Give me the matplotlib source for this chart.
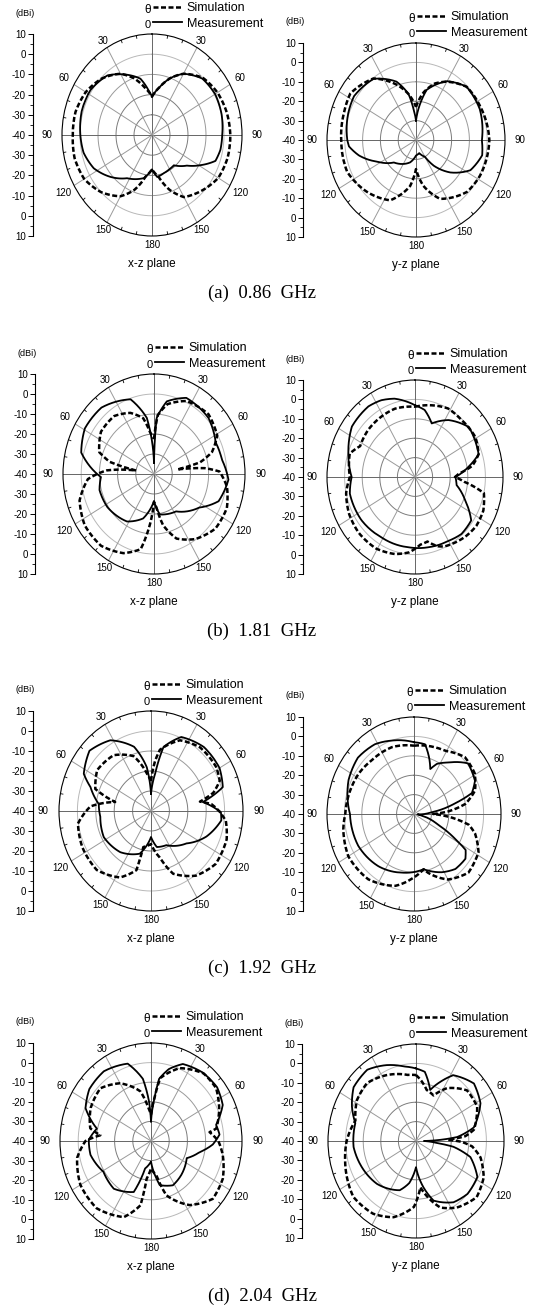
import numpy as np
import matplotlib.pyplot as plt

plt.rcParams['font.family'] = ['Liberation Sans', 'DejaVu Sans']

W, H = 536, 1306

# ---- pattern data: angle (deg, clockwise from top) and gain (dBi) ----
# (a) 0.86 GHz, x-z plane
a_xz_sim_ang = [0, 10, 20, 30, 45, 60, 75, 90, 105, 120, 135, 150, 160, 170, 180,
                190, 200, 210, 225, 240, 255, 270, 285, 300, 315, 330, 340, 350, 360]
a_xz_sim_db = [-21, -16, -10, -5, 0, 2, 3, 3.5, 3.5, 2.5, -1, -4.5, -11, -19, -23,
               -19, -11, -5, 0, 3.5, 4.5, 4, 4, 2.5, -0.5, -5, -10, -16, -21]
a_xz_meas_ang = [0, 10, 20, 30, 45, 60, 75, 90, 101, 110, 119, 128, 141, 150, 161, 172, 180,
                 192, 213, 228, 243, 257, 270, 287, 303, 320, 332, 347, 355, 360]
a_xz_meas_db = [-21, -16, -10, -5, -0.5, 0.5, 0, -1, -1.3, -2.5, -9.2, -15.4, -20.7, -20.5, -20, -19, -23,
                -18.2, -14.5, -9, -3.7, -1, -0.2, 0.8, 0.8, -1.5, -6, -11.4, -17.8, -21]

# (a) 0.86 GHz, y-z plane
a_yz_sim_ang = [0, 10, 20, 30, 46, 64, 90, 117, 133, 156, 170, 180,
                188, 205, 226, 247, 270, 289, 303, 323, 340, 350, 360]
a_yz_sim_db = [-23, -15, -9, -5.3, -0.5, 0, 1.2, 0.4, -0.8, -6.8, -16, -25,
               -16, -5.7, -1.6, 2, 2, 2.8, 4, -0.3, -10, -16, -23]
a_yz_meas_ang = [0, 8, 13, 30, 46, 66, 90, 102, 117, 131, 143, 150, 165, 180,
                 196, 227, 243, 256, 265, 270, 290, 303, 323, 340, 350, 355, 360]
a_yz_meas_db = [-30, -20, -13.5, -5, -0.5, -0.8, -3, -2, -5.7, -14.5, -23.4, -30, -33, -32,
                -28, -23, -15.5, -7, -2.2, -1.4, 0.5, 1.5, -0.5, -8, -16, -24, -30]

# (b) 1.81 GHz, x-z plane
b_xz_sim_ang = [0, 4, 12, 26, 45, 61, 71, 77, 80, 84, 88, 99, 113, 129, 145, 159, 169, 175, 180,
                186, 191, 203, 219, 236, 252, 266, 274, 280, 284, 290, 306, 323, 337, 348, 354, 360]
b_xz_sim_db = [-22.5, -10.5, -4.3, 0.6, 2.3, -0.3, -6.3, -14, -27, -12, -4, 0.6, 3.5, 3.4, -0.3, -5.4, -14, -23, -26,
               -12.6, -1.7, 3, 6.2, 5.9, 3, -3.6, -14, -30, -15, -8, -4, -3.7, -6.8, -11.5, -19, -22.5]
b_xz_meas_ang = [0, 3, 11, 25, 47, 65, 79, 94, 111, 124, 147, 171, 180,
                 195, 212, 237, 255, 267, 285, 301, 319, 341, 352, 360]
b_xz_meas_db = [-34.5, -12, -3, 2, 1, -2.6, -2, 1, -2, -10, -17.7, -19.5, -26.5,
                -17, -12, -9.5, -9, -10.8, 1.4, 4.3, 4, -0.5, -11.7, -34.5]

# (b) 1.81 GHz, y-z plane
b_yz_sim_ang = [0, 28, 42, 59, 72, 80, 86, 90, 95, 102, 114, 126, 137, 155, 160, 168, 175,
                185, 196, 211, 228, 243, 258, 270, 288, 297, 312, 328, 342, 360]
b_yz_sim_db = [-3.8, 0, -0.5, 0, -2, -7, -15, -17.3, -12, 0, 2.5, 3, 2, -0.5, -2, -6, -5,
               -1, 1.3, 3, 3, 2, 0, -3, -1, -5, -4, -3.5, -3, -3.8]
b_yz_meas_ang = [0, 9, 19, 33, 50, 72, 80, 90, 100, 113, 125, 138, 150, 168,
                 186, 212, 234, 257, 270, 288, 306, 324, 334, 344, 360]
b_yz_meas_db = [-3, -5, -10.8, -5, 0, -2, -9, -17, -16, -9, -1, -0.5, -2, -3,
                -3.6, -3.5, -2.3, -2, -4, -0.2, 4.3, 5, 4, 2, -3]

# (c) 1.92 GHz, x-z plane
c_xz_sim_ang = [0, 5, 9, 24, 40, 58, 68, 75, 80, 84, 90, 97, 109, 127, 143, 159, 168, 180,
                193, 195, 207, 225, 244, 261, 274, 283, 290, 305, 324, 341, 353, 360]
c_xz_sim_db = [-25, -15, -9, -1.3, 1.5, 1.7, 0.3, -5, -13, -7, -3, 1, 3.5, 4, 0.5, -6.4, -16, -23.5,
               -21.5, -9.4, -2.7, 1.7, 1.5, 0.2, -7, -20, -7.8, -4.3, -5.5, -11, -21, -25]
c_xz_meas_ang = [0, 7, 12, 24, 42, 60, 73, 81, 91, 97, 113, 130, 154, 170, 180,
                 196, 219, 243, 264, 277, 290, 297, 312, 328, 344, 354, 360]
c_xz_meas_db = [-31.5, -21, -7.3, 0.5, 3, 3, 0.8, -11.5, -2, -1.5, -7.3, -14.8, -21, -21.7, -27,
                -17.8, -13.5, -11.2, -12.3, -11.4, -5, 1, 5, 1.7, -6.6, -18, -31.5]

# (c) 1.92 GHz, y-z plane
c_yz_sim_ang = [0, 19, 29, 45, 59, 71, 80, 86, 90, 95, 100, 106, 118, 134, 150, 165, 169, 175,
                181, 196, 218, 240, 259, 270, 291, 303, 319, 340, 360]
c_yz_sim_db = [-4.8, -3.6, -2.8, 1.4, 0.7, -2.9, -10, -20, -29, -18, -8, -3.5, 2, 3.5, -1, -8.6, -11, -9,
               -7, -1.5, 2.7, 3.6, 1.4, -0.5, -1.5, -2, -3.2, -3.3, -4.8]
c_yz_meas_ang = [0, 10, 17, 22, 27, 37, 50, 64, 72, 77, 85, 95, 100, 112, 118, 122, 128, 140, 152, 162,
                 169, 193, 217, 243, 270, 295, 312, 328, 341, 360]
c_yz_meas_db = [-3, -3.5, -10, -15, -11, -6.8, 0.6, -1, -5, -16, -30, -38, -36, -25, -14, -5, -2.5, -3, -6, -9,
                -11, -9, -6.2, -4, -3.2, 1.5, 3.4, 2.4, 0, -3]

# (d) 2.04 GHz, x-z plane
d_xz_sim_ang = [0, 5, 9, 23, 40, 53, 66, 80, 82, 90, 100, 116, 131, 147, 163, 170, 180,
                187, 190, 201, 221, 240, 258, 270, 276, 281, 297, 314, 330, 347, 355, 360]
d_xz_sim_db = [-26.5, -18, -7.5, 0.4, 5, 4.8, 1, -3.6, -7.5, -3, 0, 3.9, 5, -1, -11, -22, -26,
               -20.7, -6.7, 1.6, 5.5, 4.8, 1.5, -4, -12, -6, -2.8, -1.3, -6, -14, -23, -26.5]
d_xz_meas_ang = [0, 5, 8, 15, 24, 39, 53, 65, 77, 85, 93, 102, 114, 136, 152, 168, 171, 180,
                 193, 200, 220, 239, 258, 271, 282, 295, 308, 324, 342, 352, 357, 360]
d_xz_meas_db = [-30, -18, -8, -2, 3, 5, 5.5, 3.5, -3.3, -2.2, -6, -12.7, -18.5, -16, -14.4, -17, -20.6, -29.5,
                -25.6, -12.3, -8.2, -9.5, -6, -5.8, -9.6, -0.3, 3, 4, 1.5, -8, -20, -30]

# (d) 2.04 GHz, y-z plane
d_yz_sim_ang = [0, 5, 13, 23, 33, 48, 63, 80, 85, 88, 91, 95, 103, 116, 130, 146, 158, 174,
                182, 198, 213, 231, 256, 270, 287, 302, 317, 334, 352, 360]
d_yz_sim_db = [-6, -8.5, -13, -14.5, -7.5, -1, -1, -6.6, -12, -22, -14, -8, -2.4, 2.8, 5, 1.4, -3, -16,
               -6, 1.3, 4.7, 5.8, 1.5, -0.6, -4, -0.4, 0.8, -2.2, -5.6, -6]
d_yz_meas_ang = [0, 8, 17, 25, 32, 48, 62, 78, 85, 90, 95, 98, 105, 118, 133, 146, 162, 170, 180,
                 190, 200, 225, 250, 265, 285, 296, 308, 323, 337, 350, 360]
d_yz_meas_db = [-2.6, -4, -12.5, -6, 0, 4.3, 1.5, -6.4, -16.5, -35.5, -28, -18.5, -8, -0.5, 0, -1.9, -7.7, -15.8, -26.5,
                -18, -13, -8.7, -6, -4.4, -4.3, 0.5, 5, 6, 2.5, -1, -2.6]

captions = ['(a)  0.86  GHz', '(b)  1.81  GHz', '(c)  1.92  GHz', '(d)  2.04  GHz']
planes = ['x-z plane', 'y-z plane']

# ---- panel geometry in pixels: centre x, centre y, radius x, radius y, scale-axis x
rows = [
    [(a_xz_sim_ang, a_xz_sim_db, a_xz_meas_ang, a_xz_meas_db, 152, 135, 90, 101, 33),
     (a_yz_sim_ang, a_yz_sim_db, a_yz_meas_ang, a_yz_meas_db, 416, 140, 89, 97, 303)],
    [(b_xz_sim_ang, b_xz_sim_db, b_xz_meas_ang, b_xz_meas_db, 154, 474, 91, 100, 35),
     (b_yz_sim_ang, b_yz_sim_db, b_yz_meas_ang, b_yz_meas_db, 415, 477, 88, 97, 303)],
    [(c_xz_sim_ang, c_xz_sim_db, c_xz_meas_ang, c_xz_meas_db, 151, 811, 92, 100, 33),
     (c_yz_sim_ang, c_yz_sim_db, c_yz_meas_ang, c_yz_meas_db, 414, 814, 87, 97, 303)],
    [(d_xz_sim_ang, d_xz_sim_db, d_xz_meas_ang, d_xz_meas_db, 151, 1141, 91, 98, 33),
     (d_yz_sim_ang, d_yz_sim_db, d_yz_meas_ang, d_yz_meas_db, 416, 1141, 88, 97, 302)],
]

fig = plt.figure(figsize=(W / 100, H / 100), dpi=100)


def fx(x):
    return x / W


def fy(y):
    return 1 - y / H


def curved(line, steps=24):
    # let the polar transform draw each segment along theta instead of as a chord
    line.recache()
    line.get_path()._interpolation_steps = steps
    return line


def polar_panel(sim_ang, sim_db, meas_ang, meas_db, cx, cy, rx, ry, sx, plane):
    ax = fig.add_axes([fx(cx - rx), fy(cy + ry), 2 * rx / W, 2 * ry / H], projection='polar')
    ax.set_aspect('auto')
    ax.set_theta_zero_location('N')
    ax.set_theta_direction(-1)
    ax.set_ylim(-40, 10)
    ax.set_xticks([])
    ax.set_yticks([])
    ax.grid(False)
    ax.patch.set_visible(False)
    ax.spines['polar'].set_linewidth(0.8)

    # rings
    t = np.linspace(0, 2 * np.pi, 361)
    for lev, col in [(-30, '#7c7c7c'), (-20, '#7c7c7c'), (-10, '#9a9a9a'), (0, '#b8b8b8')]:
        ax.plot(t, np.full_like(t, lev), color=col, lw=0.7, zorder=1)
    # spokes
    for a in range(0, 360, 30):
        col = '#666666' if a % 90 == 0 else '#9a9a9a'
        ax.plot([np.deg2rad(a)] * 2, [-40, 10], color=col, lw=0.7, zorder=1)
    # small ticks on the outer circle
    for a in range(0, 360, 10):
        if a % 30:
            ax.plot([np.deg2rad(a)] * 2, [8.6, 10], color='black', lw=0.6, zorder=1)

    # angle labels
    lab_r = {30: 14, 60: 16.5, 90: 18.5, 120: 17, 150: 14.5, 180: 14.5}
    for a in range(30, 360, 30):
        v = a if a <= 180 else 360 - a
        ax.text(np.deg2rad(a), lab_r[v], str(v), fontsize=7, ha='center', va='center', clip_on=False)

    l_sim, = ax.plot(np.deg2rad(sim_ang), sim_db, color='black', lw=1.8,
                     linestyle=(0, (2.0, 1.0)), zorder=3)
    l_meas, = ax.plot(np.deg2rad(meas_ang), meas_db, color='black', lw=1.3, zorder=4)
    curved(l_sim)
    curved(l_meas)

    ytop = cy - ry
    ax.legend([l_sim, l_meas], ['Simulation', 'Measurement'], loc='upper left',
              bbox_to_anchor=(fx(cx + 1), fy(ytop - 32)), bbox_transform=fig.transFigure,
              frameon=False, fontsize=9, handlelength=2.3, handletextpad=0.4,
              labelspacing=0.3, borderpad=0, borderaxespad=0)
    fig.text(fx(cx - 4), fy(ytop - 24), '\u03b8', fontsize=8.5, ha='center', va='center')
    fig.text(fx(cx - 4), fy(ytop - 9), '0', fontsize=8, ha='center', va='center')

    # radial scale axis on the left
    sax = fig.add_axes([fx(sx), fy(cy + ry), 0.0005, 2 * ry / H])
    sax.set_ylim(-50, 50)
    for s in ['top', 'right', 'bottom']:
        sax.spines[s].set_visible(False)
    sax.spines['left'].set_linewidth(0.8)
    sax.set_xticks([])
    ticks = np.arange(-50, 51, 10)
    sax.set_yticks(ticks)
    sax.set_yticklabels([str(abs(v) - 40) for v in ticks])
    sax.set_yticks(np.arange(-45, 50, 10), minor=True)
    sax.tick_params(axis='y', which='major', length=3.5, width=0.7, labelsize=7, pad=1.5)
    sax.tick_params(axis='y', which='minor', length=2, width=0.6)
    sax.patch.set_visible(False)
    fig.text(fx(sx - 8), fy(ytop - 21), '(dBi)', fontsize=6.5, ha='center', va='center')

    fig.text(fx(cx), fy(cy + ry + 28), plane, fontsize=8.5, ha='center', va='center')


for i, row in enumerate(rows):
    for j, p in enumerate(row):
        polar_panel(*p, planes[j])
    bottom = row[0][5] + row[0][7]
    fig.text(fx(262), fy(bottom + 57), captions[i], family='Liberation Serif',
             fontsize=13.5, ha='center', va='center')

fig.savefig('out.png', dpi=100)
